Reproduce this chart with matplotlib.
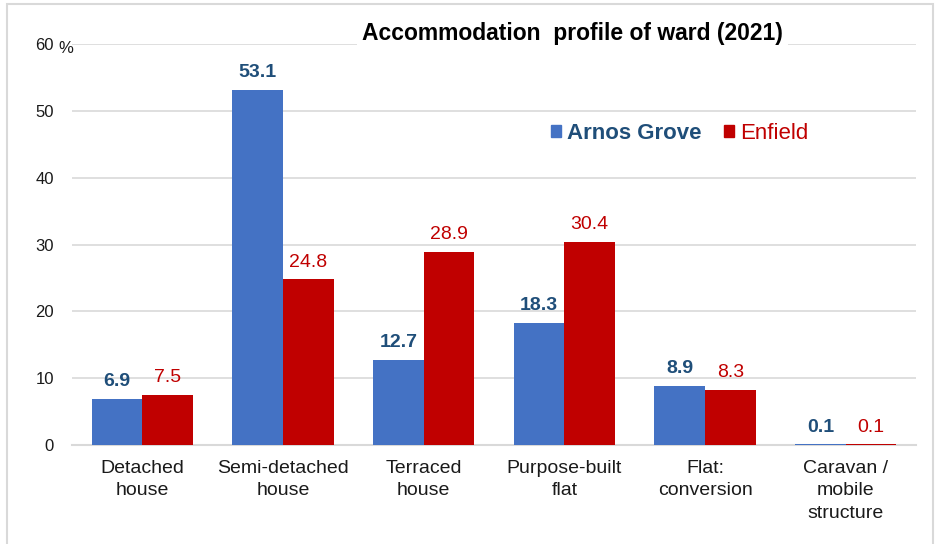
import matplotlib.pyplot as plt
import matplotlib.patches as mpatches
import numpy as np

plt.rcParams['font.family'] = ['Liberation Sans', 'DejaVu Sans']

categories = ["Detached\nhouse", "Semi-detached\nhouse", "Terraced\nhouse",
              "Purpose-built\nflat", "Flat:\nconversion", "Caravan /\nmobile\nstructure"]
arnos_grove = [6.9, 53.1, 12.7, 18.3, 8.9, 0.1]
enfield = [7.5, 24.8, 28.9, 30.4, 8.3, 0.1]
yticks = [0, 10, 20, 30, 40, 50, 60]

BLUE = "#4472C4"
RED = "#C00000"
BLUE_TXT = "#1F4E79"
GRID = "#D9D9D9"

fig = plt.figure(figsize=(9.4, 5.44), dpi=100)
ax = fig.add_axes([0.0766, 0.182, 0.8979, 0.737])

x = np.arange(len(categories))
w = 0.36
ax.bar(x - w / 2, arnos_grove, w, color=BLUE, zorder=3)
ax.bar(x + w / 2, enfield, w, color=RED, zorder=3)

for xi, v in zip(x, arnos_grove):
    ax.text(xi - w / 2, v + 1.3, f"{v:.1f}", ha="center", va="bottom",
            fontsize=14, fontweight="bold", color=BLUE_TXT)
for xi, v in zip(x, enfield):
    ax.text(xi + w / 2, v + 1.3, f"{v:.1f}", ha="center", va="bottom",
            fontsize=14, color=RED)

ax.set_xlim(-0.5, len(categories) - 0.5)
ax.set_ylim(0, 60)
ax.set_yticks(yticks)
ax.set_yticklabels([str(t) for t in yticks])
# the % sign sits just after the top tick label, a touch lower
ax.text(-0.0165, 0.99, "%", transform=ax.transAxes, ha="left", va="center",
        fontsize=12, color="#1a1a1a")
ax.set_xticks(x)
ax.set_xticklabels(categories, fontsize=14, color="#1a1a1a", linespacing=1.4)
ax.tick_params(axis="y", labelsize=12, labelcolor="#1a1a1a", length=0, pad=13)
ax.tick_params(axis="x", length=0, pad=11)

ax.yaxis.grid(True, color=GRID, linewidth=1.2, zorder=0)
for s in ["top", "right", "left"]:
    ax.spines[s].set_visible(False)
ax.spines["bottom"].set_color(GRID)
ax.spines["bottom"].set_linewidth(1.5)

ax.text(0.593, 0.998, "Accommodation  profile of ward (2021)", transform=ax.transAxes,
        ha="center", va="bottom", fontsize=16.5, fontweight="bold", color="black",
        bbox=dict(facecolor="white", edgecolor="none", pad=4), zorder=5)

handles = [mpatches.Patch(color=BLUE), mpatches.Patch(color=RED)]
leg = ax.legend(handles, ["Arnos Grove", "Enfield"], loc="center",
                bbox_to_anchor=(0.72, 0.778), ncol=2, frameon=False,
                fontsize=16, handlelength=0.45, handleheight=0.45,
                handletextpad=0.3, columnspacing=1.0)
texts = leg.get_texts()
texts[0].set_color(BLUE_TXT)
texts[0].set_fontweight("bold")
texts[1].set_color(RED)

fig.patches.append(mpatches.Rectangle((7 / 940, -0.01), 926 / 940, 1 - 4 / 544 + 0.01,
                                      transform=fig.transFigure, fill=False,
                                      edgecolor=GRID, linewidth=1.5))

fig.savefig("out.png", dpi=100)
